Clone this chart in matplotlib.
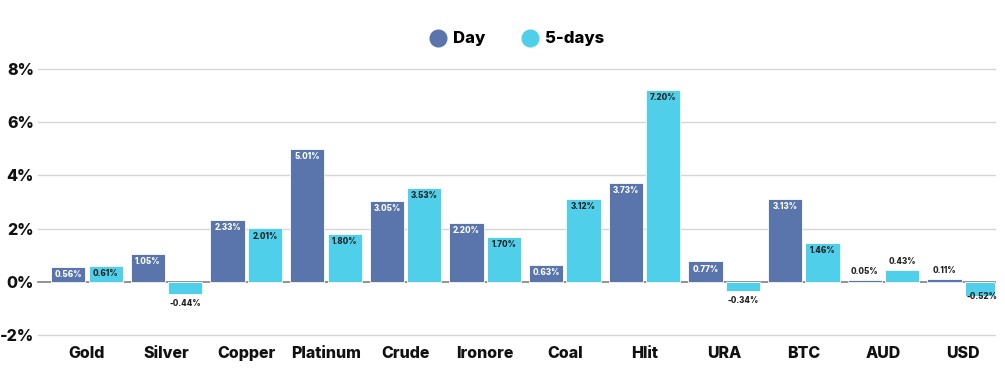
import matplotlib
matplotlib.use("Agg")
import matplotlib.pyplot as plt
import numpy as np
from matplotlib.lines import Line2D

categories = ["Gold", "Silver", "Copper", "Platinum", "Crude", "Ironore", "Coal", "Hlit", "URA", "BTC", "AUD", "USD"]
day = [0.56, 1.05, 2.33, 5.01, 3.05, 2.20, 0.63, 3.73, 0.77, 3.13, 0.05, 0.11]
five_days = [0.61, -0.44, 2.01, 1.80, 3.53, 1.70, 3.12, 7.20, -0.34, 1.46, 0.43, -0.52]
yticks = [-2, 0, 2, 4, 6, 8]
ytick_labels = ["-2%", "0%", "2%", "4%", "6%", "8%"]

C_DAY = "#5975AB"
C_5D = "#50CFEA"
FONT = ["Inter", "DejaVu Sans"]
WEIGHT = "heavy"

fig = plt.figure(figsize=(10.05, 3.78), dpi=100)
W, H = 1005, 378
ax = fig.add_axes([38 / W, 1 - 335 / H, (995 - 38) / W, (335 - 69) / H])

x = np.arange(len(categories))
bw = 0.43
off = 0.235
ax.bar(x - off, day, bw, color=C_DAY, edgecolor="white", linewidth=0.6, zorder=3)
ax.bar(x + off, five_days, bw, color=C_5D, edgecolor="white", linewidth=0.6, zorder=3)

LS = 5.8
for i, (d, f) in enumerate(zip(day, five_days)):
    if d >= 0.4:
        ax.text(x[i] - off, d - 0.12, f"{d:.2f}%", ha="center", va="top", fontsize=LS,
                fontweight=WEIGHT, color="white", family=FONT, zorder=4)
    else:
        ax.text(x[i] - off, d + 0.15, f"{d:.2f}%", ha="center", va="bottom", fontsize=LS,
                fontweight=WEIGHT, color="#222222", family=FONT, zorder=4)
    if f >= 0.5:
        ax.text(x[i] + off, f - 0.12, f"{f:.2f}%", ha="center", va="top", fontsize=LS,
                fontweight=WEIGHT, color="#222222", family=FONT, zorder=4)
    elif f >= 0:
        ax.text(x[i] + off, f + 0.15, f"{f:.2f}%", ha="center", va="bottom", fontsize=LS,
                fontweight=WEIGHT, color="#222222", family=FONT, zorder=4)
    elif f > -0.5:
        ax.text(x[i] + off, f - 0.2, f"{f:.2f}%", ha="center", va="top", fontsize=LS,
                fontweight=WEIGHT, color="#222222", family=FONT, zorder=4)
    else:
        ax.text(x[i] + off, f + 0.12, f"{f:.2f}%", ha="center", va="top", fontsize=LS,
                fontweight=WEIGHT, color="#222222", family=FONT, zorder=4)

ax.set_xlim(-0.615, 11.40)
ax.set_ylim(-2, 8)
ax.set_yticks(yticks)
ax.set_yticklabels(ytick_labels)
ax.set_xticks(x)
ax.set_xticklabels(categories)
for lab in ax.get_xticklabels() + ax.get_yticklabels():
    lab.set_fontfamily(FONT)
    lab.set_fontweight(WEIGHT)
    lab.set_fontsize(11.5)
    lab.set_color("#111111")
ax.tick_params(axis="both", length=0)
ax.tick_params(axis="y", pad=3)
ax.tick_params(axis="x", pad=8)
for s in ax.spines.values():
    s.set_visible(False)
for yv in yticks:
    if yv == 0:
        ax.axhline(0, color="#808080", linewidth=1.2, zorder=2, clip_on=False)
    else:
        ax.axhline(yv, color="#d6d6d6", linewidth=1.0, zorder=1, clip_on=False)

handles = [Line2D([0], [0], marker="o", linestyle="", markersize=12, markerfacecolor=C_DAY, markeredgecolor=C_DAY),
           Line2D([0], [0], marker="o", linestyle="", markersize=12, markerfacecolor=C_5D, markeredgecolor=C_5D)]
fig.legend(handles, ["Day", "5-days"], loc="center", bbox_to_anchor=(517 / W, 1 - 39 / H), ncol=2,
           frameon=False, handletextpad=0.4, columnspacing=2.2, handlelength=1.0,
           prop={"family": FONT, "weight": WEIGHT, "size": 12})

fig.savefig("out.png", dpi=100)
